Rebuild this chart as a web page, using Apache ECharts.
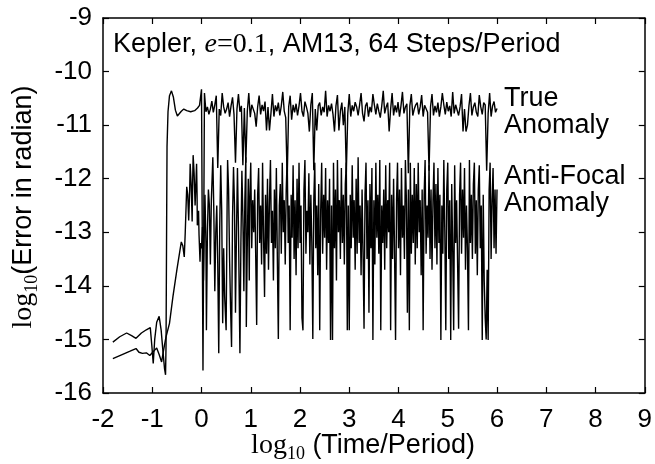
<!DOCTYPE html>
<html><head><meta charset="utf-8">
<script src="https://cdn.jsdelivr.net/npm/echarts@6/dist/echarts.min.js"></script>
<style>html,body{margin:0;padding:0;background:#fff}#c{width:655px;height:464px}</style>
</head><body><div id="c"></div>
<script>
// ---- data ----
const xMin = -2, xMax = 9, yMin = -16, yMax = -9;

// True anomaly: early part (x, y) pairs
const trueEarly = [[-1.80,-15.05],[-1.66,-14.95],[-1.52,-14.88],[-1.42,-14.93],[-1.33,-14.98],[-1.22,-14.88],[-1.12,-14.82],[-1.04,-14.78],[-1.01,-15.10],[-0.98,-15.45],[-0.95,-15.0],[-0.91,-14.68],[-0.86,-14.57],[-0.82,-14.82],[-0.78,-15.25],[-0.75,-15.55],[-0.73,-15.66],[-0.72,-15.1],[-0.71,-13.2],[-0.70,-11.4],[-0.68,-10.75],[-0.65,-10.45],[-0.61,-10.36],[-0.57,-10.48],[-0.53,-10.72],[-0.49,-10.83],[-0.45,-10.82],[-0.41,-10.74],[-0.36,-10.70],[-0.30,-10.73],[-0.22,-10.75],[-0.14,-10.73],[-0.08,-10.68],[-0.04,-10.63],[-0.02,-10.66]];
// True anomaly: samples from x = 0 every 0.03
const trueStart = 0, trueStep = 0.03;
const trueValues = [
-10.33,-15.58,-10.40,-10.75,-10.66,-10.80,-10.70,-10.55,-10.76,-10.62,
-10.45,-11.80,-10.70,-10.82,-10.40,-10.66,-10.78,-10.70,-10.58,-10.84,
-10.64,-10.48,-10.80,-11.70,-10.70,-10.42,-10.75,-10.64,-11.75,-10.68,
-11.70,-10.74,-10.40,-10.85,-10.62,-10.60,-10.78,-11.03,-10.66,-10.45,
-10.80,-10.62,-10.74,-10.56,-11.10,-10.66,-11.10,-10.78,-10.42,-10.84,
-10.63,-10.74,-10.58,-10.82,-10.64,-10.38,-10.74,-10.86,-12.00,-10.66,
-10.45,-10.90,-10.62,-10.76,-10.60,-10.82,-10.64,-10.40,-10.74,-10.84,
-10.56,-10.66,-10.78,-11.12,-10.62,-10.40,-11.84,-10.70,-11.10,-10.64,
-10.58,-10.82,-10.66,-10.76,-10.36,-10.84,-10.63,-10.74,-10.60,-10.80,
-11.12,-10.64,-10.44,-11.10,-10.74,-10.58,-11.00,-10.66,-11.90,-10.78,
-10.42,-10.84,-10.63,-10.74,-10.57,-10.66,-10.82,-10.62,-10.40,-10.78,
-10.93,-10.64,-10.58,-10.84,-10.66,-10.76,-10.42,-10.62,-10.80,-10.60,
-10.74,-10.86,-10.64,-10.36,-10.78,-10.66,-10.58,-11.12,-10.70,-10.40,
-10.82,-10.63,-10.76,-10.57,-10.84,-10.64,-10.38,-10.78,-10.66,-10.60,
-11.90,-10.64,-10.42,-10.82,-10.70,-10.62,-10.58,-10.80,-10.66,-10.44,
-10.84,-10.63,-10.60,-10.76,-11.85,-10.66,-10.42,-10.82,-10.64,-10.76,
-10.58,-10.84,-10.66,-10.40,-10.62,-10.80,-10.57,-10.74,-10.64,-10.84,
-10.38,-10.78,-10.62,-10.60,-10.82,-10.66,-10.42,-11.12,-10.70,-11.12,
-11.00,-10.64,-10.40,-10.82,-10.66,-10.58,-10.76,-10.84,-10.44,-10.66,
-10.80,-10.58,-10.62,-11.85,-10.78,-10.40,-10.84,-10.64,-10.56,-10.76,
-10.69];

// Anti-focal anomaly: early part (x, y) pairs
const afEarly = [[-1.80,-15.36],[-1.60,-15.28],[-1.45,-15.22],[-1.33,-15.17],[-1.27,-15.24],[-1.20,-15.26],[-1.12,-15.25],[-1.05,-15.30],[-1.00,-15.25],[-0.95,-15.20],[-0.91,-15.16],[-0.86,-15.28],[-0.81,-15.42],[-0.77,-15.20],[-0.72,-14.95],[-0.65,-14.70],[-0.58,-14.20],[-0.50,-13.70],[-0.44,-13.35],[-0.41,-13.18],[-0.38,-13.25],[-0.35,-13.46],[-0.33,-13.0],[-0.30,-12.15],[-0.28,-12.30],[-0.26,-12.78],[-0.24,-12.20],[-0.23,-11.72],[-0.21,-12.10],[-0.19,-12.80],[-0.18,-12.10],[-0.17,-11.56],[-0.15,-11.90],[-0.13,-12.50],[-0.11,-12.00],[-0.10,-11.72],[-0.09,-12.30],[-0.085,-12.87],[-0.06,-12.60],[-0.05,-13.05],[-0.03,-13.55],[-0.02,-13.20],[0.0,-13.30],[0.02,-12.90],[0.04,-13.9],[0.06,-12.8],[0.07,-12.3],[0.09,-13.2],[0.10,-14.83],[0.12,-13.0],[0.14,-12.2],[0.16,-12.5],[0.18,-13.6],[0.20,-12.4],[0.23,-11.6],[0.25,-12.6],[0.27,-14.1],[0.29,-13.0],[0.31,-12.5],[0.33,-13.6],[0.35,-15.26],[0.37,-12.9],[0.39,-11.75],[0.41,-12.6],[0.43,-14.7],[0.45,-13.3],[0.47,-14.2],[0.50,-14.83],[0.52,-12.5],[0.53,-11.65],[0.55,-12.2],[0.57,-13.5],[0.59,-14.4],[0.61,-15.14],[0.63,-12.7],[0.65,-11.78],[0.67,-12.5],[0.69,-14.5],[0.71,-13.0],[0.73,-11.8],[0.75,-12.9],[0.78,-15.26],[0.80,-13.2],[0.82,-11.85],[0.84,-12.7],[0.86,-14.1],[0.88,-12.4],[0.90,-11.6],[0.91,-14.77],[0.93,-13.2],[0.95,-12.0],[0.97,-13.9],[0.98,-12.4]];
// Anti-focal anomaly: samples from x = 1 every 0.02
const afStart = 1.0, afStep = 0.02;
const afValues = [
-11.7,-13.3,-12.4,-13.0,-12.2,  -13.4,-14.73,-12.3,-11.8,-13.2,
-12.5,-13.6,-11.7,-13.1,-14.21,  -12.3,-13.4,-12.0,-13.7,-12.4,
-11.65,-13.2,-12.6,-13.9,-12.2,  -13.3,-11.8,-13.5,-14.99,-12.5,
-12.1,-13.4,-11.7,-13.0,-12.4,  -13.6,-12.2,-11.6,-13.2,-12.5,
-14.83,-12.3,-13.1,-11.75,-13.5,  -12.4,-13.8,-12.0,-13.3,-11.7,
-13.2,-12.5,-14.6,-14.83,-12.2,  -11.65,-13.4,-12.6,-13.0,-11.9,
-13.6,-12.3,-13.2,-14.99,-12.4,  -11.7,-13.3,-12.5,-13.8,-12.1,
-14.83,-12.6,-11.7,-13.4,-12.3,  -13.1,-11.8,-13.7,-12.4,-13.2,
-12.0,-15.01,-12.5,-15.01,-11.7,  -13.3,-12.2,-13.9,-11.65,-13.0,
-12.4,-13.5,-11.8,-13.2,-12.3,  -13.6,-12.1,-11.7,-14.83,-12.5,
-14.83,-12.3,-13.3,-11.75,-13.1,  -12.4,-13.7,-12.0,-13.4,-11.6,
-13.2,-12.5,-13.8,-12.2,-13.4,  -14.8,-12.3,-11.7,-13.5,-12.4,
-14.5,-12.1,-13.3,-11.8,-15.01,  -12.4,-13.6,-11.7,-13.1,-12.3,
-13.4,-11.65,-14.83,-12.5,-13.2,  -12.2,-13.7,-11.75,-13.3,-12.4,
-13.0,-11.7,-14.83,-12.3,-13.5,  -12.0,-13.4,-15.01,-12.4,-11.7,
-13.3,-12.2,-13.8,-11.8,-13.1,  -12.5,-13.5,-11.65,-12.4,-14.5,
-12.2,-14.83,-11.7,-13.4,-12.3,  -13.2,-11.8,-13.6,-12.1,-13.3,
-11.7,-13.0,-12.4,-13.8,-12.2,  -14.83,-12.3,-11.65,-13.4,-12.5,
-13.1,-11.75,-13.5,-12.2,-13.7,  -12.4,-11.7,-13.3,-12.1,-13.6,
-11.8,-13.2,-12.3,-15.01,-12.5,  -13.4,-11.65,-13.0,-14.83,-12.2,
-11.7,-13.5,-12.4,-15.01,-12.1,  -13.3,-14.83,-11.75,-13.2,-12.4,
-13.6,-14.8,-12.3,-11.7,-13.4,  -12.2,-13.1,-11.8,-13.7,-12.5,
-13.3,-14.83,-11.65,-13.2,-12.3,  -13.5,-12.1,-11.7,-13.4,-12.4,
-13.8,-12.2,-11.75,-13.3,-12.5,  -15.01,-12.3,-13.9,-14.6,-15.0,
-13.7,-15.01,-12.2,-11.7,-13.5,  -12.4,-11.8,-13.3,-12.2,-13.4,
-12.2];

// ---- build ----
const trueData = trueEarly.concat(trueValues.map((v, i) => [+(trueStart + i * trueStep).toFixed(3), v]));
const afData = afEarly.concat(afValues.map((v, i) => [+(afStart + i * afStep).toFixed(3), v]));

const SANS = '"Liberation Sans", Arial, Helvetica, sans-serif';
const SERIF = '"Liberation Serif", "Times New Roman", serif';
const FS = 26;   // tick labels
const TS = 27;   // other text

const chart = echarts.init(document.getElementById('c'), null, {renderer: 'canvas'});
const axisCommon = {
  type: 'value', min: xMin, max: xMax, interval: 1,
  axisLine: {show: true, onZero: false, lineStyle: {color: '#000', width: 1.5}},
  axisTick: {show: true, inside: true, length: 6, lineStyle: {color: '#000', width: 1.2}},
  splitLine: {show: false}
};
chart.setOption({
  animation: false,
  backgroundColor: '#fff',
  grid: {left: 103, top: 18, width: 544, height: 375, containLabel: false},
  xAxis: [
    Object.assign({}, axisCommon, {position: 'bottom',
      axisLabel: {show: true, color: '#000', fontSize: FS, fontFamily: SANS, margin: 14}}),
    Object.assign({}, axisCommon, {position: 'top', axisLabel: {show: false}})
  ],
  yAxis: [
    Object.assign({}, axisCommon, {min: yMin, max: yMax, position: 'left',
      axisLabel: {show: true, color: '#000', fontSize: FS, fontFamily: SANS, margin: 11}}),
    Object.assign({}, axisCommon, {min: yMin, max: yMax, position: 'right', axisLabel: {show: false}})
  ],
  series: [
    {type: 'line', name: 'True Anomaly', data: trueData, showSymbol: false, symbol: 'none',
     lineStyle: {color: '#000', width: 1.4}, xAxisIndex: 0, yAxisIndex: 0},
    {type: 'line', name: 'Anti-Focal Anomaly', data: afData, showSymbol: false, symbol: 'none',
     lineStyle: {color: '#000', width: 1.4}, xAxisIndex: 0, yAxisIndex: 0}
  ],
  graphic: [
    {type: 'text', x: 113, y: 45, style: {
      text: '{s|Kepler, }{i|e}{r|=0.1}{s|, AM13, 64 Steps/Period}',
      align: 'left', verticalAlign: 'middle', textAlign: 'left', textVerticalAlign: 'middle',
      rich: {
        s: {fontFamily: SANS, fontSize: TS, fill: '#000', color: '#000'},
        i: {fontFamily: SERIF, fontStyle: 'italic', fontSize: TS + 1, fill: '#000', color: '#000'},
        r: {fontFamily: SERIF, fontSize: TS + 1, fill: '#000', color: '#000'}
      }}},
    {type: 'text', x: 504, y: 112, style: {
      text: 'True\nAnomaly', font: TS + 'px ' + SANS, fill: '#000', lineHeight: 27,
      align: 'left', verticalAlign: 'middle', textAlign: 'left', textVerticalAlign: 'middle'}},
    {type: 'text', x: 504, y: 190, style: {
      text: 'Anti-Focal\nAnomaly', font: TS + 'px ' + SANS, fill: '#000', lineHeight: 27,
      align: 'left', verticalAlign: 'middle', textAlign: 'left', textVerticalAlign: 'middle'}},
    {type: 'text', x: 24, y: 207, rotation: Math.PI / 2, style: {
      text: '{l|log}{b|10}{n|(Error in radian)}',
      align: 'center', verticalAlign: 'middle', textAlign: 'center', textVerticalAlign: 'middle',
      rich: {
        l: {fontFamily: SERIF, fontSize: TS + 1, lineHeight: 34, verticalAlign: 'middle', fill: '#000'},
        b: {fontFamily: SERIF, fontSize: 18, lineHeight: 34, verticalAlign: 'bottom', fill: '#000'},
        n: {fontFamily: SANS, fontSize: TS, lineHeight: 34, verticalAlign: 'middle', fill: '#000'}
      }}},
    {type: 'text', x: 363, y: 446, style: {
      text: '{l|log}{b|10}{n| (Time/Period)}',
      align: 'center', verticalAlign: 'middle', textAlign: 'center', textVerticalAlign: 'middle',
      rich: {
        l: {fontFamily: SERIF, fontSize: TS + 1, lineHeight: 34, verticalAlign: 'middle', fill: '#000'},
        b: {fontFamily: SERIF, fontSize: 18, lineHeight: 34, verticalAlign: 'bottom', fill: '#000'},
        n: {fontFamily: SANS, fontSize: TS, lineHeight: 34, verticalAlign: 'middle', fill: '#000'}
      }}}
  ]
});
</script>
</body></html>
